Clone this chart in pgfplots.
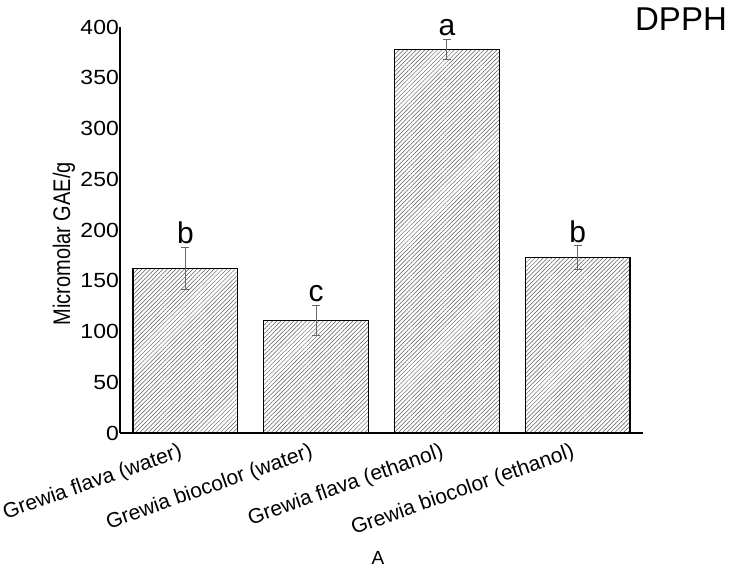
\documentclass[border=0pt]{standalone}
\usepackage{fontspec}
\setmainfont{Liberation Sans}
\usepackage{pgfplots}
\pgfplotsset{compat=1.18}
\usepackage{pgfplotstable}
\usetikzlibrary{patterns.meta}

\pgfplotstableread{
x y err
0 162 21
1 111 15
2 378 10
3 173 11.5
}\datatable

\begin{document}
\begin{tikzpicture}
\path[use as bounding box] (-120pt,-135pt) rectangle (611pt,433pt);
\begin{axis}[
  at={(0pt,0pt)}, anchor=south west,
  scale only axis, width=523pt, height=406pt,
  xmin=-0.5, xmax=3.5, ymin=0, ymax=400,
  axis x line*=bottom, axis y line*=left,
  axis line style={black, line width=1.2pt},
  ytick={0,50,...,400},
  yticklabel={\scalebox{1.12}[1]{\pgfmathprintnumber{\tick}}},
  xtick={0,1,2,3},
  xticklabels={Grewia flava (water), Grewia biocolor (water), Grewia flava (ethanol), Grewia biocolor (ethanol)},
  major tick length=0pt,
  /pgf/number format/assume math mode=true,
  yticklabel style={font=\fontsize{20.5}{24}\selectfont, inner sep=1pt, anchor=east},
  xticklabel style={font=\fontsize{21}{24}\selectfont, rotate=19.5, anchor=north east, inner sep=0pt, yshift=-6pt, xshift=-10pt},
  ylabel={\scalebox{1.2}[1]{\rotatebox{90}{Micromolar GAE/g}}},
  ylabel style={font=\fontsize{20}{24}\selectfont, rotate=-90, at={(axis description cs:-0.107,0.466)}, anchor=center},
  clip=false,
]
\addplot[ybar, bar width=0.8, draw=black, line width=1.2pt,
  pattern={Lines[angle=45,distance=3pt,line width=0.5pt]}, pattern color=gray!70!black,
  error bars/.cd, y dir=both, y explicit,
  error bar style={gray!80!black, line width=0.8pt},
  error mark options={rotate=90, mark size=4pt, gray!80!black, line width=0.8pt}]
  table[x=x, y=y, y error=err] {\datatable};
\node[font=\fontsize{30}{32}\selectfont, anchor=south, inner sep=3pt] at (axis cs:0,183) {b};
\node[font=\fontsize{30}{32}\selectfont, anchor=south, inner sep=3pt] at (axis cs:1,126) {c};
\node[font=\fontsize{30}{32}\selectfont, anchor=south, inner sep=3pt] at (axis cs:2,388) {a};
\node[font=\fontsize{30}{32}\selectfont, anchor=south, inner sep=3pt] at (axis cs:3,184.5) {b};
\end{axis}
\node[font=\fontsize{33}{36}\selectfont] at (561pt,413.5pt) {DPPH};
\node[font=\fontsize{19}{22}\selectfont] at (258pt,-125pt) {A};
\end{tikzpicture}
\end{document}
